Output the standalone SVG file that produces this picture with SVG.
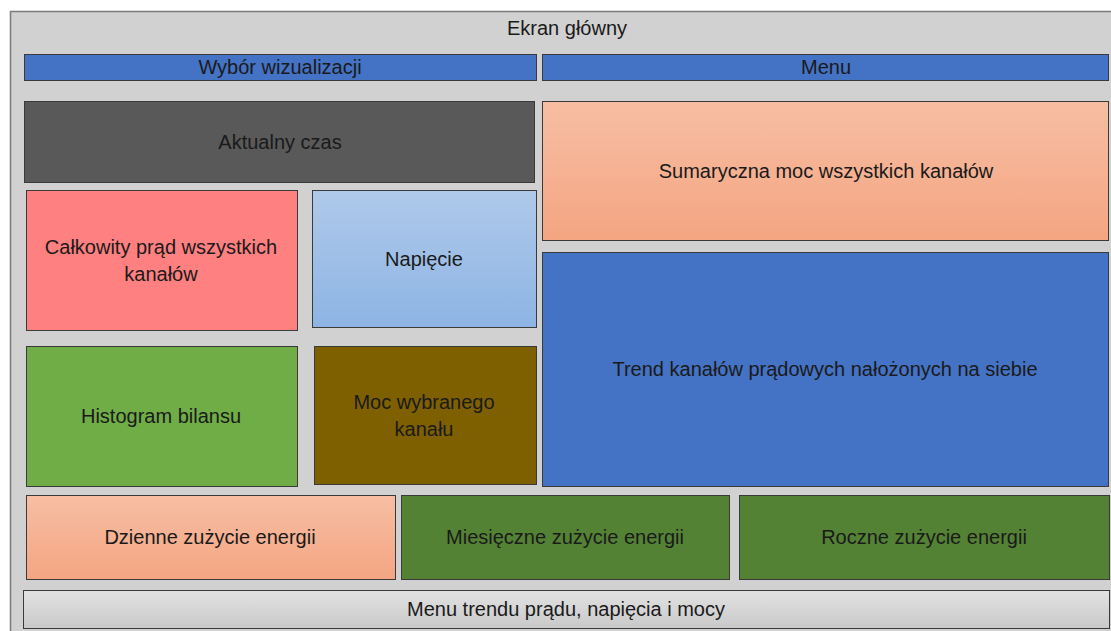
<svg xmlns="http://www.w3.org/2000/svg" width="1111" height="631" viewBox="0 0 1111 631">
<defs>
<linearGradient id="peach" x1="0" y1="0" x2="0" y2="1"><stop offset="0" stop-color="#f7bea3"/><stop offset="1" stop-color="#f4a582"/></linearGradient>
<linearGradient id="lblue" x1="0" y1="0" x2="0" y2="1"><stop offset="0" stop-color="#afc9ea"/><stop offset="1" stop-color="#8db4e4"/></linearGradient>
<linearGradient id="lgray" x1="0" y1="0" x2="0" y2="1"><stop offset="0" stop-color="#e2e2e2"/><stop offset="1" stop-color="#c9c9c9"/></linearGradient>
</defs>
<style>
rect.b{stroke:#3a3a3a;stroke-width:1}
text{font-family:"Liberation Sans",Arial,sans-serif;font-size:20px;fill:#1a1a1a;text-anchor:middle;dominant-baseline:central}
</style>
<rect width="1111" height="631" fill="#ffffff"/>
<g id="ekran"><rect x="10.5" y="11.5" width="1110" height="630" fill="#d1d1d1" stroke="#7a7a7a" stroke-width="1.5"/><text x="567" y="28">Ekran główny</text></g>
<g id="wybor"><rect class="b" x="24.5" y="54.5" width="512" height="26" fill="#4472c4"/><text x="280" y="67">Wybór wizualizacji</text></g>
<g id="menu"><rect class="b" x="542.5" y="54.5" width="566" height="26" fill="#4472c4"/><text x="826" y="67">Menu</text></g>
<g id="czas"><rect class="b" x="24.5" y="101.5" width="510" height="81" fill="#595959"/><text x="280" y="142">Aktualny czas</text></g>
<g id="sumaryczna"><rect class="b" x="542.5" y="101.5" width="566" height="139" fill="url(#peach)"/><text x="826" y="171">Sumaryczna moc wszystkich kanałów</text></g>
<g id="calkowity"><rect class="b" x="26.5" y="190.5" width="271" height="140" fill="#ff8080"/><text x="161" y="247">Całkowity prąd wszystkich</text><text x="161" y="274">kanałów</text></g>
<g id="napiecie"><rect class="b" x="312.5" y="190.5" width="224" height="137" fill="url(#lblue)"/><text x="424" y="259">Napięcie</text></g>
<g id="trend"><rect class="b" x="542.5" y="252.5" width="566" height="234" fill="#4472c4"/><text x="825" y="369">Trend kanałów prądowych nałożonych na siebie</text></g>
<g id="histogram"><rect class="b" x="26.5" y="346.5" width="271" height="140" fill="#70ad47"/><text x="161" y="416">Histogram bilansu</text></g>
<g id="moc"><rect class="b" x="314.5" y="346.5" width="222" height="138" fill="#7f6000"/><text x="424" y="402">Moc wybranego</text><text x="424" y="429">kanału</text></g>
<g id="dzienne"><rect class="b" x="26.5" y="495.5" width="369" height="84" fill="url(#peach)"/><text x="210" y="537">Dzienne zużycie energii</text></g>
<g id="miesieczne"><rect class="b" x="401.5" y="495.5" width="328" height="84" fill="#548235"/><text x="565" y="537">Miesięczne zużycie energii</text></g>
<g id="roczne"><rect class="b" x="739.5" y="495.5" width="370" height="84" fill="#548235"/><text x="924" y="537">Roczne zużycie energii</text></g>
<g id="menutrendu"><rect class="b" x="23.5" y="590.5" width="1086" height="38" fill="url(#lgray)"/><text x="566" y="609">Menu trendu prądu, napięcia i mocy</text></g>
<g id="connectors"></g>
</svg>
